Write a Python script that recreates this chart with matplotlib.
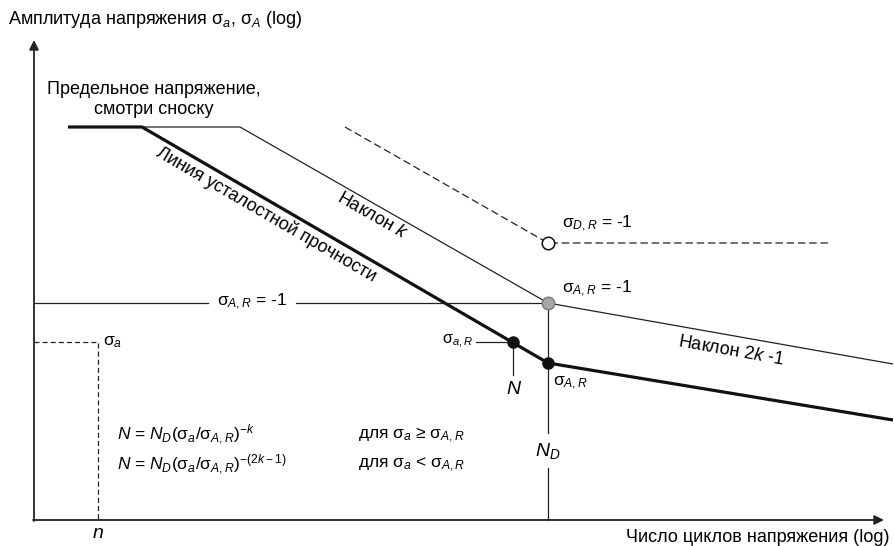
import numpy as np
import matplotlib
matplotlib.use("Agg")
import matplotlib.pyplot as plt

plt.rcParams['font.family'] = ['Liberation Sans', 'DejaVu Sans']
plt.rcParams['mathtext.fontset'] = 'custom'
plt.rcParams['mathtext.rm'] = 'Liberation Sans'
plt.rcParams['mathtext.it'] = 'Liberation Sans:italic'
plt.rcParams['mathtext.bf'] = 'Liberation Sans:bold'

# ---- schematic data (log N, log sigma in drawing units; y grows downward) ----
fatigue_x = [68, 142, 548, 893]          # thick fatigue-strength line
fatigue_y = [127, 127, 363, 420]
slope_k_x = [142, 240, 548, 893]         # thin line, slope k then 2k-1
slope_k_y = [127, 127, 303, 364]
endurance_x = [345, 548, 828]            # dashed sigma_D,R line
endurance_y = [127, 243, 243]
N_D = 548
sigma_AR_level = 303
point_N = (513, 342)
point_ND = (548, 363)
point_AR = (548, 303)
point_DR = (548, 243)
n_x = 98
sigma_a_level = 342
x_axis = (34, 520)
x_end = 884
y_top = 40

fig = plt.figure(figsize=(8.95, 5.46), dpi=100)
ax = fig.add_axes([0, 0, 1, 1])
ax.set_xlim(0, 895)
ax.set_ylim(546, 0)
ax.axis('off')

FS = 13
# axes with arrows
ax.annotate('', xy=(x_axis[0], y_top), xytext=(x_axis[0], x_axis[1] + 1),
            arrowprops=dict(arrowstyle='-|>', lw=1.3, color='#222', mutation_scale=14, shrinkA=0, shrinkB=0))
ax.annotate('', xy=(x_end, x_axis[1]), xytext=(x_axis[0] - 1, x_axis[1]),
            arrowprops=dict(arrowstyle='-|>', lw=1.3, color='#222', mutation_scale=14, shrinkA=0, shrinkB=0))

# lines
ax.plot(slope_k_x, slope_k_y, color='#222', lw=0.9, solid_capstyle='butt')
ax.plot(fatigue_x, fatigue_y, color='#111', lw=2.3, solid_capstyle='butt', solid_joinstyle='round')
ax.plot(endurance_x, endurance_y, color='#222', lw=0.9, linestyle=(0, (6, 3)))

# sigma_A,R horizontal with gap for label
ax.plot([x_axis[0], 208], [sigma_AR_level] * 2, color='#222', lw=0.9)
ax.plot([296, N_D], [sigma_AR_level] * 2, color='#222', lw=0.9)
ax.text(252, sigma_AR_level - 1, 'σ$_{A,R}$ = -1', fontsize=FS - 0.5, ha='center', va='center')

# N_D vertical with gap for label
ax.plot([N_D, N_D], [sigma_AR_level, 433], color='#222', lw=0.9)
ax.plot([N_D, N_D], [468, x_axis[1]], color='#222', lw=0.9)
ax.text(N_D, 451, '$N_D$', fontsize=FS + 1, ha='center', va='center')

# N point
ax.plot([point_N[0], point_N[0]], [point_N[1], 375], color='#222', lw=0.9)
ax.plot([476, point_N[0]], [point_N[1]] * 2, color='#222', lw=0.9)
ax.text(473, point_N[1] - 1, 'σ$_{a,R}$', fontsize=FS - 1.5, ha='right', va='center')
ax.text(point_N[0] + 1, 389, '$N$', fontsize=FS + 1, ha='center', va='center')

# sigma_a / n dashed
ax.plot([x_axis[0], n_x, n_x], [sigma_a_level, sigma_a_level, x_axis[1]],
        color='#222', lw=0.9, linestyle=(0, (4, 2.5)))
ax.text(n_x + 5, sigma_a_level, 'σ$_a$', fontsize=FS - 0.5, ha='left', va='center')
ax.text(n_x, 533, '$n$', fontsize=FS + 1, ha='center', va='center')

# markers
ax.plot(*point_N, 'o', ms=8, color='#111', zorder=5)
ax.plot(*point_ND, 'o', ms=8, color='#111', zorder=5)
ax.plot(*point_AR, 'o', ms=9, mfc='#a8a8a8', mec='#777', mew=1, zorder=5)
ax.plot(*point_DR, 'o', ms=9, mfc='white', mec='#111', mew=1.1, zorder=5)

# labels near points
ax.text(562, 224, 'σ$_{D,R}$ = -1', fontsize=FS - 0.5, ha='left', va='center')
ax.text(562, 289, 'σ$_{A,R}$ = -1', fontsize=FS - 0.5, ha='left', va='center')
ax.text(553, 383, 'σ$_{A,R}$', fontsize=FS - 0.5, ha='left', va='center')

# rotated labels
ang1 = -np.degrees(np.arctan2(fatigue_y[2] - fatigue_y[1], fatigue_x[2] - fatigue_x[1]))
ax.text(266, 214, 'Линия усталостной прочности', fontsize=FS, rotation=ang1,
        rotation_mode='anchor', ha='center', va='center')
ang2 = -np.degrees(np.arctan2(slope_k_y[2] - slope_k_y[1], slope_k_x[2] - slope_k_x[1]))
ax.text(372, 216, 'Наклон $k$', fontsize=FS, rotation=ang2,
        rotation_mode='anchor', ha='center', va='center')
ang3 = -np.degrees(np.arctan2(slope_k_y[3] - slope_k_y[2], slope_k_x[3] - slope_k_x[2]))
ax.text(731, 351, 'Наклон 2$k$ -1', fontsize=FS, rotation=ang3,
        rotation_mode='anchor', ha='center', va='center')

# top texts
ax.text(8, 20, 'Амплитуда напряжения σ$_a$, σ$_A$ (log)', fontsize=FS, ha='left', va='center')
ax.text(154, 90, 'Предельное напряжение,', fontsize=FS, ha='center', va='center')
ax.text(154, 110, 'смотри сноску', fontsize=FS, ha='center', va='center')
ax.text(890, 537, 'Число циклов напряжения (log)', fontsize=FS, ha='right', va='center')

# formulas
ax.text(117, 435, '$N$ = $N_D$(σ$_a$/σ$_{A,R}$)$^{-k}$', fontsize=FS - 0.5, ha='left', va='center')
ax.text(117, 465, '$N$ = $N_D$(σ$_a$/σ$_{A,R}$)$^{-(2k-1)}$', fontsize=FS - 0.5, ha='left', va='center')
ax.text(358, 435, 'для σ$_a$ ≥ σ$_{A,R}$', fontsize=FS - 0.5, ha='left', va='center')
ax.text(358, 465, 'для σ$_a$ < σ$_{A,R}$', fontsize=FS - 0.5, ha='left', va='center')

fig.savefig('out.png', dpi=100)
